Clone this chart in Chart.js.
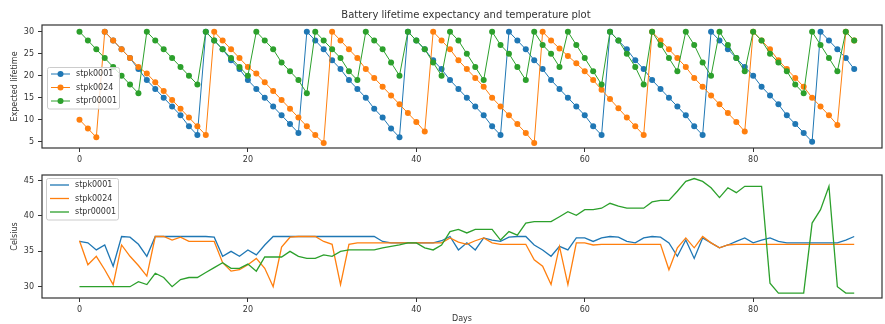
<!DOCTYPE html>
<html>
<head>
<meta charset="utf-8">
<script src="https://cdn.jsdelivr.net/npm/chart.js@4.4.0/dist/chart.umd.min.js"></script>
<style>
  body { margin: 0; background: #fff; width: 885px; height: 324px; overflow: hidden; position: relative; }
  #lifeChart { position: absolute; left: 0; top: 0; }
  #tempChart { position: absolute; left: 0; top: 165px; }
</style>
</head>
<body>
<canvas id="lifeChart" width="885" height="165"></canvas>
<canvas id="tempChart" width="885" height="159"></canvas>
<script>
// stations and day numbers
const stations = ['stpk0001', 'stpk0024', 'stpr00001'];
const colors = ['#1f77b4', '#ff7f0e', '#2ca02c'];
const days = [];
for (let d = 0; d <= 92; d++) days.push(d);

// expected lifetime (top panel)
const lifeBlue = [null, null, null, 30, 28, 26, 24, 21.5, 19, 17, 15, 13, 11, 8.5, 6.5,
  30, 28, 26, 23.5, 21.5, 19, 17, 15, 13, 11, 9, 7,
  30, 28, 26, 23.5, 21.5, 19, 17, 15, 12.5, 10.5, 8, 6,
  30, 28, 26, 23.5, 21.5, 19, 17, 15, 13, 11, 8.5, 6.5,
  30, 28, 26, 23.5, 21.5, 19, 17, 15, 13, 11, 8.5, 6.5,
  30, 28, 26, 23.5, 21.5, 19, 17, 15, 13, 11, 8.5, 6.5,
  30, 28, 26, 24, 22, 20, 17.5, 15.5, 13.5, 11, 9, 7, 5,
  30, 28, 26, 24, 21.5];
const lifeOrange = [10, 8, 6,
  30, 28, 26, 24, 22, 20.5, 18.5, 16.5, 14.5, 12.5, 10.5, 8.5, 6.5,
  30, 28, 26, 24, 22, 20.5, 18.5, 16.5, 14.5, 12.5, 10.5, 8.5, 6.5, 4.7,
  30, 28, 26, 24, 21.5, 19.5, 17.5, 15.5, 13.5, 11.5, 9.5, 7.3,
  30, 28, 26, 23.5, 21.5, 19.5, 17.5, 15, 13, 11, 9, 7, 4.7,
  30, 28, 26.2, 24.5, 22.8, 21, 19, 16.8, 14.7, 12.6, 10.5, 8.5, 6.5,
  30, 28, 26, 24, 22, 19.5, 17.5, 15.5, 13.5, 11.5, 9.5, 7.3,
  30, 28, 26, 23.5, 21.5, 19.5, 17.5, 15, 13, 11, 8.8,
  30, 28];
const lifeGreen = [30, 28, 26, 24, 22, 20, 18, 16,
  30, 28, 26, 24, 22, 20, 18,
  30, 28, 26, 24, 22, 20,
  30, 28, 26, 23, 21, 19, 16,
  30, 28, 26, 24, 21, 19,
  30, 28, 26, 23, 20,
  30, 28, 26, 23, 20,
  30, 28, 25, 22, 19,
  30, 27, 25, 22, 19,
  30, 27, 25, 22,
  30, 27, 24, 21, 18,
  30, 28, 25, 22, 18,
  30, 27, 24, 21,
  30, 27, 23, 20,
  30, 27, 24, 21,
  30, 28, 25, 23, 21, 18, 16,
  30, 27, 24, 21,
  30, 28];

// temperature (bottom panel)
const tempBlue = [36.4, 36.2, 35.2, 35.9, 32.9, 37.1, 37.0, 36.0, 34.3, 37.1,
  37.1, 37.1, 37.1, 37.1, 37.1, 37.1, 37.0, 34.3, 35.0, 34.3,
  35.2, 34.5, 35.9, 37.1, 37.1, 37.1, 37.1, 37.1, 37.1, 37.1,
  37.1, 37.1, 37.1, 37.1, 37.1, 37.1, 36.4, 36.2, 36.2, 36.2,
  36.2, 36.2, 36.2, 36.5, 37.1, 35.2, 36.2, 35.2, 36.9, 36.6,
  36.4, 37.0, 37.1, 37.1, 35.9, 35.2, 34.3, 35.7, 35.2, 36.9,
  36.9, 36.4, 36.9, 37.1, 37.0, 36.4, 36.2, 36.9, 37.1, 37.0,
  36.2, 34.3, 36.6, 34.0, 36.9, 36.2, 35.5, 35.9, 36.4, 36.9,
  36.2, 36.6, 36.9, 36.4, 36.2, 36.2, 36.2, 36.2, 36.2, 36.2,
  36.2, 36.6, 37.1];
const tempOrange = [36.5, 33.1, 34.3, 32.4, 30.3, 35.9, 34.3, 33.0, 31.5, 37.1,
  37.1, 36.6, 37.0, 36.4, 36.4, 36.4, 36.4, 33.4, 32.2, 32.4,
  33.1, 34.0, 32.6, 30.0, 35.6, 37.0, 37.1, 37.1, 37.1, 36.4,
  36.0, 30.3, 36.0, 36.2, 36.2, 36.2, 36.2, 36.2, 36.2, 36.2,
  36.2, 36.2, 36.2, 36.2, 36.9, 36.3, 36.0, 36.5, 36.9, 36.2,
  36.0, 36.0, 36.0, 36.0, 33.8, 32.9, 30.3, 35.7, 30.3, 36.2,
  36.2, 35.9, 36.0, 36.0, 36.0, 36.0, 36.0, 36.0, 36.0, 36.0,
  32.4, 35.5, 36.9, 35.5, 37.1, 36.2, 35.5, 35.9, 36.0, 36.0,
  36.0, 36.0, 36.0, 36.0, 36.0, 36.0, 36.0, 36.0, 36.0, 36.0,
  36.0, 36.0, 36.0];
const tempGreen = [30.0, 30.0, 30.0, 30.0, 30.0, 30.0, 30.0, 30.7, 30.3, 31.9,
  31.3, 30.0, 31.0, 31.3, 31.3, 32.0, 32.7, 33.4, 32.6, 32.6,
  33.2, 32.2, 34.2, 34.2, 34.2, 35.0, 34.3, 34.0, 34.0, 34.5,
  34.3, 35.0, 35.2, 35.2, 35.2, 35.2, 35.5, 35.7, 35.9, 36.2,
  36.2, 35.5, 35.2, 35.9, 37.8, 38.1, 37.6, 38.1, 38.1, 38.1,
  36.6, 37.8, 37.3, 39.0, 39.2, 39.2, 39.2, 39.9, 40.6, 40.1,
  40.9, 40.9, 41.1, 41.8, 41.4, 41.1, 41.1, 41.1, 42.0, 42.2,
  42.2, 43.5, 44.9, 45.3, 44.9, 44.0, 42.6, 44.0, 43.3, 44.2,
  44.2, 44.2, 30.5, 29.1, 29.1, 29.1, 29.1, 39.0, 40.9, 44.2,
  30.0, 29.1, 29.1];

const xTicks = [0, 20, 40, 60, 80];
const lifeTicks = [5, 10, 15, 20, 25, 30];
const tempTicks = [30, 35, 40, 45];

const font = { family: 'DejaVu Sans', size: 8 };
const ink = '#333';

// matplotlib-like frame around the plot area
const frame = {
  id: 'frame',
  afterDatasetsDraw(chart) {
    const a = chart.chartArea, ctx = chart.ctx;
    ctx.save();
    ctx.strokeStyle = ink;
    ctx.lineWidth = 1.2;
    ctx.strokeRect(a.left, a.top, a.right - a.left, a.bottom - a.top);
    ctx.restore();
  }
};

// title centred on the axes, like pyplot
const axesTitle = {
  id: 'axesTitle',
  afterDraw(chart, args, opts) {
    if (!opts.text) return;
    const a = chart.chartArea, ctx = chart.ctx;
    ctx.save();
    ctx.font = '10px "DejaVu Sans"';
    ctx.fillStyle = ink;
    ctx.textAlign = 'center';
    ctx.textBaseline = 'middle';
    ctx.fillText(opts.text, (a.left + a.right) / 2 + 4, 15);
    ctx.restore();
  }
};

// legend box inside the axes
const insetLegend = {
  id: 'insetLegend',
  afterDraw(chart, args, opts) {
    const a = chart.chartArea, ctx = chart.ctx;
    const x = a.left + opts.dx, y = a.top + opts.dy;
    const rowH = 13.5, w = 72, h = rowH * chart.data.datasets.length + 1;
    ctx.save();
    ctx.fillStyle = 'rgba(255,255,255,0.8)';
    ctx.strokeStyle = '#ccc';
    ctx.lineWidth = 1;
    ctx.beginPath();
    ctx.roundRect(x + 0.5, y + 0.5, w, h, 2);
    ctx.fill();
    ctx.stroke();
    ctx.font = '8px "DejaVu Sans"';
    ctx.textBaseline = 'middle';
    chart.data.datasets.forEach((ds, i) => {
      const cy = y + 7 + rowH * i;
      ctx.strokeStyle = ds.borderColor;
      ctx.lineWidth = opts.markers ? 1 : 1.3;
      ctx.beginPath();
      ctx.moveTo(x + 4, cy);
      ctx.lineTo(x + 23, cy);
      ctx.stroke();
      if (opts.markers) {
        ctx.fillStyle = ds.borderColor;
        ctx.beginPath();
        ctx.arc(x + 13.5, cy, 3, 0, Math.PI * 2);
        ctx.fill();
      }
      ctx.fillStyle = ink;
      ctx.fillText(ds.label, x + 29, cy);
    });
    ctx.restore();
  }
};

function series(values, k, markers) {
  return {
    label: stations[k],
    data: days.map((d, i) => ({ x: d, y: values[i] })),
    borderColor: colors[k],
    backgroundColor: colors[k],
    borderWidth: markers ? 1 : 1.3,
    pointRadius: markers ? 3 : 0,
    pointBorderWidth: 0,
    pointHoverRadius: markers ? 3 : 0,
    tension: 0,
    order: 3 - k
  };
}

function xScale(height) {
  return {
    type: 'linear', min: -4.45, max: 95.3,
    afterBuildTicks: s => { s.ticks = xTicks.map(v => ({ value: v })); },
    afterFit: s => { s.height = height; },
    grid: { drawOnChartArea: false, tickLength: 4, color: ink },
    border: { display: false },
    ticks: { font, color: ink, padding: 3, maxRotation: 0 }
  };
}

function yScale(min, max, ticks, title) {
  return {
    min, max,
    afterBuildTicks: s => { s.ticks = ticks.map(v => ({ value: v })); },
    afterFit: s => { s.width = 42; },
    grid: { drawOnChartArea: false, tickLength: 4, color: ink },
    border: { display: false },
    ticks: { font, color: ink, padding: 4 },
    title: { display: true, text: title, font, color: ink, padding: { top: 10, bottom: 0 } }
  };
}

new Chart(document.getElementById('lifeChart'), {
  type: 'line',
  data: { datasets: [series(lifeBlue, 0, true), series(lifeOrange, 1, true), series(lifeGreen, 2, true)] },
  options: {
    responsive: false,
    animation: false,
    layout: { padding: { left: 0, right: 3, top: 25, bottom: 0 } },
    plugins: {
      legend: { display: false },
      tooltip: { enabled: false },
      axesTitle: { text: 'Battery lifetime expectancy and temperature plot' },
      insetLegend: { dx: 5, dy: 42, markers: true }
    },
    scales: {
      x: xScale(17),
      y: yScale(3.57, 31.52, lifeTicks, 'Expected lifetime')
    }
  },
  plugins: [frame, axesTitle, insetLegend]
});

const tempX = xScale(26);
tempX.title = { display: true, text: 'Days', font, color: ink, padding: { top: 0, bottom: 0 } };

new Chart(document.getElementById('tempChart'), {
  type: 'line',
  data: { datasets: [series(tempBlue, 0, false), series(tempOrange, 1, false), series(tempGreen, 2, false)] },
  options: {
    responsive: false,
    animation: false,
    layout: { padding: { left: 0, right: 3, top: 10, bottom: 0 } },
    plugins: {
      legend: { display: false },
      tooltip: { enabled: false },
      insetLegend: { dx: 4, dy: 3, markers: false }
    },
    scales: {
      x: tempX,
      y: yScale(28.4, 45.8, tempTicks, 'Celsius')
    }
  },
  plugins: [frame, insetLegend]
});
</script>
</body>
</html>
